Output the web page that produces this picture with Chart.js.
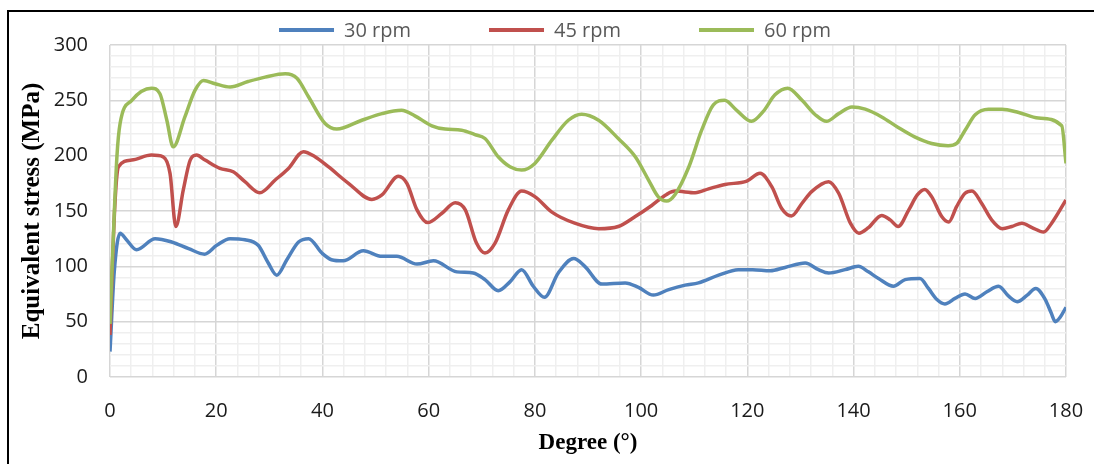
<!DOCTYPE html>
<html>
<head>
<meta charset="utf-8">
<script src="https://cdn.jsdelivr.net/npm/chart.js@4"></script>
<style>
    body { margin: 0; background: #fff; }
    canvas { display: block; }
</style>
</head>
<body>
<canvas id="stress-chart" width="1094" height="464"></canvas>
<script>
// series names
const seriesNames = ['30 rpm', '45 rpm', '60 rpm'];
const seriesColors = ['#4f81bd', '#c0504d', '#9bbb59'];

// 30 rpm
const deg30 = [0, 0.8, 1.9, 3.1, 5, 8.5, 11.6, 14.8, 17.8, 20.1, 22.6, 25.4, 27.9, 29.8, 31.4, 33.3, 35.5, 37.4, 39.9, 41.7,
    43.9, 47.7, 51.2, 54, 57.8, 60.9, 65.3, 68.4, 70.6, 73.1, 75.3, 77.5, 79.7, 81.8, 84.4, 87.3, 89.4, 92.6, 97, 99.5,
    102.3, 105.2, 108.3, 110.8, 114.6, 118.3, 121, 124.3, 127.1, 130.9, 133.4, 135.3, 138.4, 140.9, 142.8, 144.7, 147.5, 149.7, 152.5, 154.1,
    155.7, 157.2, 159.1, 161, 162.9, 165.1, 167.3, 169.2, 170.8, 172.7, 174.3, 176.1, 177.2, 178, 178.9, 180];
const mpa30 = [23, 95, 130, 124, 115, 125, 122, 116, 111, 119, 125, 124, 119, 103, 92, 106, 122, 125, 112, 106,
    105, 114, 109, 109, 102, 105, 95, 94, 88, 78, 86, 97, 82, 72, 94, 107, 100, 84, 85, 81,
    74, 79, 83, 85, 92, 97, 97, 96, 99, 103, 97, 94, 97, 100, 95, 89, 82, 88, 89, 80,
    70, 66, 71, 75, 71, 77, 82, 73, 68, 74, 80, 70, 58, 50, 54, 63];

// 45 rpm
const deg45 = [0, 0.9, 1.6, 4.1, 7.8, 10, 11.3, 12.4, 13.8, 15.1, 16.3, 17.9, 20.7, 23.2, 25.4, 28.2, 31.1, 33.6, 36.4, 38.6,
    41.1, 44.9, 49.3, 51.2, 54.3, 55.9, 57.8, 59.8, 62.5, 65, 66.9, 69, 70.6, 72.5, 75, 77.5, 80, 83.2, 87.5, 92,
    95.7, 98.9, 102, 104.8, 106.4, 110.2, 112.7, 115.8, 119.9, 122.4, 124.6, 126.5, 128.3, 130.3, 132.1, 135.3, 137.2, 139.4, 141, 142.8,
    145.3, 146.9, 148.4, 150.4, 152, 153.4, 154.7, 156.6, 157.9, 159.4, 161, 162.3, 164.1, 166, 168, 169.8, 171.7, 173.6, 175.8, 177.3,
    180];
const mpa45 = [38, 154, 190, 196, 200.5, 199, 184, 136, 169, 196, 200.5, 196, 188.5, 185.5, 176.5, 166.5, 178, 188.5, 203.5, 199,
    190, 175, 160.5, 164.5, 181.5, 175, 151, 139.5, 148, 157.5, 151, 121, 112, 121, 151, 168, 163, 149, 139, 134,
    136, 145, 155, 165, 168, 166.5, 170, 174, 177, 184, 172, 152, 145.5, 157, 167.5, 176.5, 166, 139, 130, 135,
    146, 142, 136, 151, 164.5, 169.5, 163, 145, 140, 154, 166, 168, 157, 142, 134, 136, 139, 135, 131, 139,
    160];

// 60 rpm
const deg60 = [0, 0.6, 1.3, 1.9, 4.1, 7.8, 9.4, 10.7, 11.9, 14.1, 16, 17.6, 19.8, 22.6, 26, 29.2, 33, 35.2, 37.4, 40.5,
    42.7, 47.4, 51.2, 54.9, 57.4, 60.6, 63.1, 66.2, 68.7, 70.6, 73.1, 75.3, 77.5, 80, 83.2, 86.3, 88.8, 92, 95.7, 98.9,
    101.4, 103.2, 104.8, 106.4, 109, 111.4, 113.6, 115.7, 118, 120.8, 123, 125.2, 127.6, 130.3, 132.8, 134.9, 137.2, 139.7, 142.2, 145.3,
    148.4, 151.5, 154.7, 157.8, 159.4, 161, 162.9, 165.4, 167.9, 171.1, 174.8, 179.2, 180];
const mpa60 = [48, 124, 199, 229, 250, 261, 256, 232, 208, 235, 259, 268, 265, 262, 267, 271, 274, 270, 253, 229,
    224, 232, 238, 241, 236, 227, 224, 223, 219, 215.5, 199, 190, 187, 193, 214, 232, 237.5, 232, 215.5, 199,
    178, 163, 159, 165, 190, 223, 246, 250, 241, 231, 240, 255, 261, 250, 237, 231, 238, 244, 242, 235,
    225.5, 217, 211, 209, 211, 223, 237, 242, 242, 239, 234, 227, 193];

const degrees = [deg30, deg45, deg60];
const values = [mpa30, mpa45, mpa60];

const tickFont = { family: 'Open Sans', size: 20 };

function toPoints(xs, ys) {
    return xs.map((x, i) => ({ x: x, y: ys[i] }));
}

// black frame round the chart (left and top edges show in the original)
const framePlugin = {
    id: 'frame',
    beforeDraw(chart) {
        const ctx = chart.ctx;
        ctx.save();
        ctx.fillStyle = '#fff';
        ctx.fillRect(0, 0, chart.width, chart.height);
        ctx.strokeStyle = '#000';
        ctx.lineWidth = 2;
        ctx.beginPath();
        ctx.moveTo(8, chart.height);
        ctx.lineTo(8, 11);
        ctx.lineTo(chart.width, 11);
        ctx.stroke();
        ctx.restore();
    }
};

// legend drawn by hand so the spacing matches the Excel one
const legendPlugin = {
    id: 'lineLegend',
    afterDraw(chart) {
        const ctx = chart.ctx;
        const lineLen = 55, textGap = 10, itemGap = 78, y = 30;
        ctx.save();
        ctx.font = '20px "Open Sans"';
        ctx.textBaseline = 'middle';
        const widths = seriesNames.map(n => lineLen + textGap + ctx.measureText(n).width);
        const total = widths.reduce((a, b) => a + b, 0) + itemGap * (widths.length - 1);
        let x = 555 - total / 2;
        seriesNames.forEach((name, i) => {
            ctx.strokeStyle = seriesColors[i];
            ctx.lineWidth = 4;
            ctx.beginPath();
            ctx.moveTo(x, y);
            ctx.lineTo(x + lineLen, y);
            ctx.stroke();
            ctx.fillStyle = '#595959';
            ctx.fillText(name, x + lineLen + textGap, y + 1);
            x += widths[i] + itemGap;
        });
        ctx.restore();
    }
};

const ctx = document.getElementById('stress-chart').getContext('2d');

const stressChart = new Chart(ctx, {
    type: 'line',
    data: {
        datasets: seriesNames.map((name, i) => ({
            label: name,
            data: toPoints(degrees[i], values[i]),
            borderColor: seriesColors[i],
            backgroundColor: seriesColors[i],
            borderWidth: 3.5,
            pointRadius: 0,
            cubicInterpolationMode: 'monotone',
            fill: false,
            order: 3 - i
        }))
    },
    options: {
        responsive: false,
        animation: false,
        layout: { padding: { left: 18, right: 28, top: 45, bottom: 7 } },
        plugins: {
            legend: { display: false },
            tooltip: { enabled: false }
        },
        scales: {
            x: {
                type: 'linear',
                min: 0,
                max: 180,
                afterFit: scale => {
                    scale.height = 80;
                    scale.paddingLeft = 0;
                    scale.paddingRight = 0;
                },
                ticks: {
                    stepSize: 4,
                    autoSkip: false,
                    maxRotation: 0,
                    padding: 22,
                    color: '#1a1a1a',
                    font: tickFont,
                    callback: v => (v % 20 === 0 ? v : '')
                },
                grid: {
                    drawTicks: false,
                    lineWidth: 1.5,
                    color: c => (c.tick && c.tick.value % 20 === 0 ? '#d6d6d6' : '#efefef')
                },
                border: { display: false },
                title: {
                    display: true,
                    text: 'Degree (°)',
                    font: { family: 'Liberation Serif', size: 23, weight: 'bold' },
                    color: '#000',
                    padding: 0
                }
            },
            y: {
                min: 0,
                max: 300,
                afterFit: scale => { scale.width = 92; },
                ticks: {
                    stepSize: 10,
                    autoSkip: false,
                    padding: 22,
                    color: '#1a1a1a',
                    font: tickFont,
                    callback: v => (v % 50 === 0 ? v : '')
                },
                grid: {
                    drawTicks: false,
                    lineWidth: 1.5,
                    color: c => (c.tick && c.tick.value % 50 === 0 ? '#d6d6d6' : '#efefef')
                },
                border: { display: false },
                title: {
                    display: true,
                    text: 'Equivalent stress (MPa)',
                    font: { family: 'Liberation Serif', size: 25, weight: 'bold' },
                    color: '#000',
                    padding: 0
                }
            }
        }
    },
    plugins: [framePlugin, legendPlugin]
});
</script>
</body>
</html>
